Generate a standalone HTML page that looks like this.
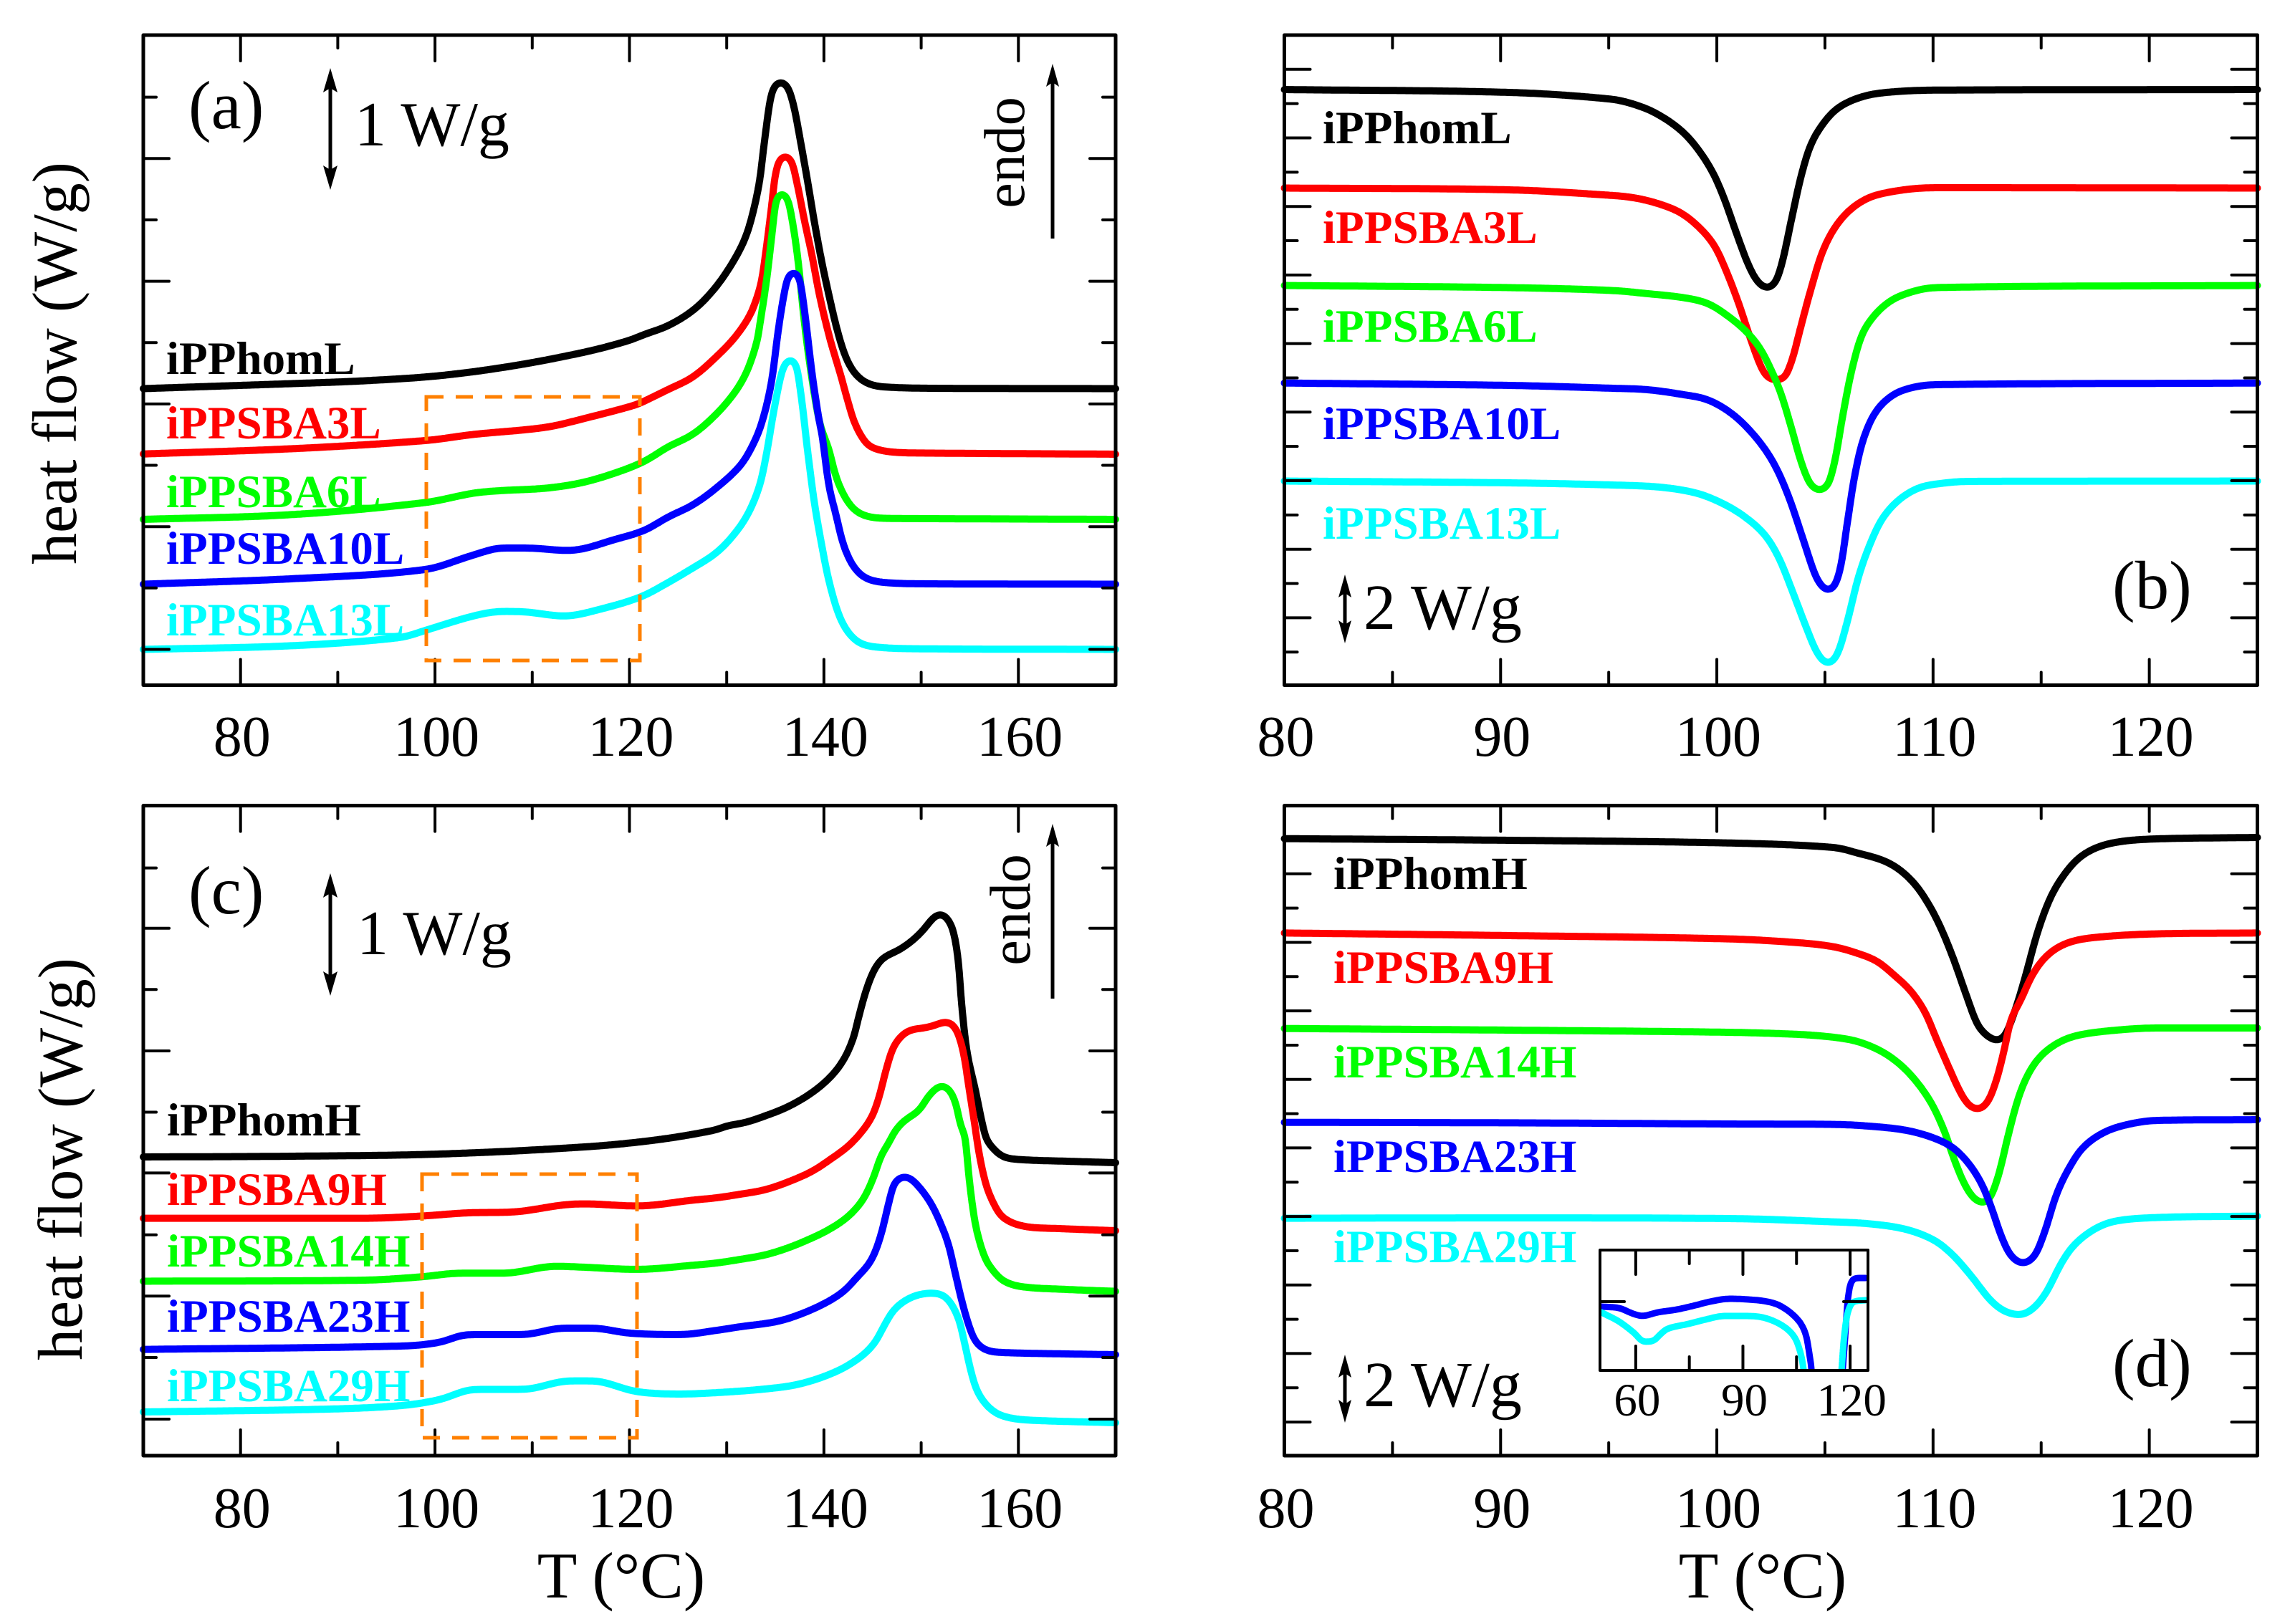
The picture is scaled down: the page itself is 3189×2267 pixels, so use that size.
<!DOCTYPE html>
<html lang="en">
<head>
<meta charset="utf-8">
<title>DSC heat flow curves</title>
<style>
html,body{margin:0;padding:0;background:#fff}
svg{display:block}
text{font-family:"Liberation Serif","Times New Roman",serif;fill:#000}
.lab{font-weight:bold;font-size:65px}
.tick{font-size:80px;text-anchor:middle}
.ins{font-size:65px;text-anchor:middle}
.big{font-size:88px}
.big2{font-size:90px}
.tag{font-size:95px}
.ttl{font-size:88px;text-anchor:middle}
.endo{font-size:80px;text-anchor:middle}
.xt{font-size:91px;text-anchor:middle}
</style>
</head>
<body>
<svg id="chart" xmlns="http://www.w3.org/2000/svg" width="3189" height="2267" viewBox="0 0 3189 2267">
<rect width="3189" height="2267" fill="#fff"/>
<defs><clipPath id="insetClip"><rect x="2233" y="1745" width="374" height="168"/></clipPath></defs>
<g id="curvesLayer"></g>
<g id="axesLayer"></g>

<g>
<text class="tag" x="263" y="179">(a)</text>
<text class="big" x="495" y="203">1 W/g</text>
<g><line x1="461" y1="110" x2="461" y2="250" stroke="#000" stroke-width="5"/><polygon points="461,95 451,129 461,123 471,129"/><polygon points="461,265 451,231 461,237 471,231"/></g>
<text class="endo" transform="translate(1429,213) rotate(-90)">endo</text>
<g><line x1="1469" y1="105" x2="1469" y2="333" stroke="#000" stroke-width="5"/><polygon points="1469,89 1460,121 1469,115 1478,121"/></g>
<text class="ttl" transform="translate(106,507) rotate(-90)">heat flow (W/g)</text>
<text class="lab" x="232" y="522" style="fill:#000">iPPhomL</text>
<text class="lab" x="232" y="612" style="fill:#f00">iPPSBA3L</text>
<text class="lab" x="232" y="708" style="fill:#0f0">iPPSBA6L</text>
<text class="lab" x="232" y="787" style="fill:#00f">iPPSBA10L</text>
<text class="lab" x="232" y="887" style="fill:#0ff">iPPSBA13L</text>
<rect x="595" y="554" width="298" height="368" fill="none" stroke="#ff8000" stroke-width="5" stroke-dasharray="24 17"/>
</g>

<g>
<text class="tag" x="2948" y="849">(b)</text>
<text class="big2" x="1903" y="878">2 W/g</text>
<g><line x1="1877" y1="815" x2="1877" y2="885" stroke="#000" stroke-width="5"/><polygon points="1877,802 1868,834 1877,828 1886,834"/><polygon points="1877,898 1868,866 1877,872 1886,866"/></g>
<text class="lab" x="1846" y="200" style="fill:#000">iPPhomL</text>
<text class="lab" x="1846" y="339" style="fill:#f00">iPPSBA3L</text>
<text class="lab" x="1846" y="477" style="fill:#0f0">iPPSBA6L</text>
<text class="lab" x="1846" y="613" style="fill:#00f">iPPSBA10L</text>
<text class="lab" x="1846" y="752" style="fill:#0ff">iPPSBA13L</text>
</g>

<g>
<text class="tag" x="263" y="1275">(c)</text>
<text class="big" x="498" y="1332">1 W/g</text>
<g><line x1="461" y1="1234" x2="461" y2="1375" stroke="#000" stroke-width="5"/><polygon points="461,1219 451,1253 461,1247 471,1253"/><polygon points="461,1390 451,1356 461,1362 471,1356"/></g>
<text class="endo" transform="translate(1437,1270) rotate(-90)">endo</text>
<g><line x1="1469" y1="1166" x2="1469" y2="1394" stroke="#000" stroke-width="5"/><polygon points="1469,1150 1460,1182 1469,1176 1478,1182"/></g>
<text class="ttl" transform="translate(114,1618) rotate(-90)">heat flow (W/g)</text>
<text class="lab" x="233" y="1585" style="fill:#000">iPPhomH</text>
<text class="lab" x="233" y="1682" style="fill:#f00">iPPSBA9H</text>
<text class="lab" x="233" y="1768" style="fill:#0f0">iPPSBA14H</text>
<text class="lab" x="233" y="1859" style="fill:#00f">iPPSBA23H</text>
<text class="lab" x="233" y="1956" style="fill:#0ff">iPPSBA29H</text>
<rect x="589" y="1639" width="300" height="368" fill="none" stroke="#ff8000" stroke-width="5" stroke-dasharray="24 17"/>
<text class="xt" x="867" y="2230">T (°C)</text>
</g>

<g>
<text class="tag" x="2948" y="1935">(d)</text>
<text class="big2" x="1903" y="1963">2 W/g</text>
<g><line x1="1877" y1="1904" x2="1877" y2="1973" stroke="#000" stroke-width="5"/><polygon points="1877,1891 1868,1923 1877,1917 1886,1923"/><polygon points="1877,1986 1868,1954 1877,1960 1886,1954"/></g>
<text class="lab" x="1861" y="1241" style="fill:#000">iPPhomH</text>
<text class="lab" x="1861" y="1372" style="fill:#f00">iPPSBA9H</text>
<text class="lab" x="1861" y="1504" style="fill:#0f0">iPPSBA14H</text>
<text class="lab" x="1861" y="1636" style="fill:#00f">iPPSBA23H</text>
<text class="lab" x="1861" y="1762" style="fill:#0ff">iPPSBA29H</text>
<text class="xt" x="2460" y="2230">T (°C)</text>
</g>
</svg>

<script>
// Heat-flow values are in arbitrary units: height above the bottom of each panel.
// ---------- Panel (a) ----------
const aT_iPPhomL = [70,85.3,92.8,100.4,107.9,115.4,119.9,121.6,124,126.7,128.9,130.7,131.9,132.63,133.37,133.86,134.47,134.97,135.63,136.32,136.93,137.54,138.28,139.02,139.75,140.49,141.23,141.97,142.7,143.68,144.91,146.6,151,170];
const aV_iPPhomL = [414,421,425,432,445.5,465,481,490,502,525,556,592,624,656,703,756.5,816.5,838,843,834,806.5,763,706.5,646.5,593,546,503,468,445,428,419,416,414.5,414];
const aT_iPPSBA3L = [70,85.1,99,103.9,111.4,115.4,120.7,121.6,124,126.5,128.9,130.9,132.39,133.12,133.61,134.11,134.6,134.97,135.46,136.07,136.68,137.3,138.03,138.77,139.51,140.49,141.23,141.72,142.46,143.19,144.42,145.65,147.4,151,170];
const aV_iPPSBA3L = [322.8,330,341.5,350,360,372.5,391.5,397,413,430,458,486.5,516.5,541.5,566.5,613.5,666.5,709.5,734.5,739.5,731.5,696.5,646.5,600,546.5,490,455,433,396.5,365,336.5,328.5,325,324,322.5];
const aT_iPPSBA6L = [70,85.1,99,103.9,106.6,111.4,115.2,118.9,121.6,124,126.5,128.9,130.9,132.14,133.12,133.37,134.11,134.6,135.09,135.7,136.32,136.93,137.42,137.91,138.53,139.51,140.5,141.2,142,143,144.2,146.1,151,170];
const aV_iPPSBA6L = [231.5,238,255,268,271.5,275,283,298,313,333,350,378,410,440,480,500,566.5,623,676.5,687.5,676.5,633,583,516.5,450,369.5,329.5,293,266.5,246.5,236.5,233,232.5,231.5];
const aT_iPPSBA10L = [70,85.1,99,103.9,106.9,109.4,113.7,118.9,121.6,124,126.5,128.9,131.4,132.6,133.6,134.6,135.3,135.9,136.4,136.97,137.5,138,138.8,139.5,139.8,140.5,141.2,142,143,144.2,146.1,151,170];
const aV_iPPSBA10L = [141,148.5,161.5,181.5,191.5,191.5,188,205,216.5,235,251.5,275,306.5,333,366,423,495,546,573,577.5,566.5,523,433,370,350,280,240,196.5,166.5,150,143.5,141.5,141];
const aT_iPPSBA13L = [70,85.1,96.4,99,103.9,106.9,109.1,113.3,117.1,121.2,124,126.5,128.9,130.7,132.2,133.4,134.1,134.8,135.6,136.1,136.5,137.1,137.7,138.3,139,139.8,140.5,141.5,142.5,143.7,145.2,148.6,170];
const aV_iPPSBA13L = [50,55,66.5,76.5,96.5,103,102.5,96.5,106.5,123.5,143.5,163.5,184.5,209.5,239.5,279.5,323.5,379.5,433.5,451.5,455.5,448.5,399.5,329.5,256.5,193.5,146.5,99.5,73.5,58.5,53.5,51,50];
const aTickMajor = [80,100,120,140,160];
const aTickMinor = [70,90,110,130,150,170];
const aTickLabels = ['80','100','120','140','160'];
const aYMajor = [50,221.3,392.6,563.9,735.2];
const aYMinor = [135.7,307,478.3,649.6,820.9];

// ---------- Panel (b) ----------
const bT_iPPhomL = [80,90.4,95.16,96.26,97.15,98.25,99.02,99.8,100.35,100.9,101.45,101.89,102.34,102.72,103.05,103.44,103.88,104.32,104.88,105.54,106.42,107.52,110.06,125];
const bV_iPPhomL = [831.5,827.5,818,810,799,777,752.5,716.5,678.5,631.5,587.5,563,553.7,563,593.5,648.5,708.5,752.5,782.5,804.5,818.5,826.5,830.7,831.5];
const bT_iPPSBA3L = [80,90.4,95.16,96.26,97.37,98.36,99.24,99.91,100.46,101.01,101.56,102.12,102.56,103,103.44,103.88,104.32,104.88,105.54,106.42,107.52,110.06,125];
const bV_iPPSBA3L = [694,691.5,683.7,680,671.5,659,637.5,612.5,576.5,533,483.5,439.5,426,426,450.5,500,549.5,604.5,642.5,670,685.5,694.5,694];
const bT_iPPSBA6L = [80,90.4,95.16,96.82,98.47,99.58,100.46,101.34,102,102.56,103,103.44,103.88,104.32,104.76,105.15,105.48,105.81,106.2,106.64,107.08,107.86,108.74,110.06,125];
const bV_iPPSBA6L = [558,555,551,546.5,541,533,516.5,494.5,470,437,404,360,313.5,280.5,271.5,280.5,316.5,374,434.5,483.5,508.5,533,546.5,555,558];
const bT_iPPSBA10L = [80,90.4,95.16,96.82,98.47,99.58,100.68,101.56,102.34,102.89,103.44,103.99,104.54,104.88,105.15,105.48,105.76,106.03,106.37,106.75,107.3,108.08,108.96,110.06,125];
const bV_iPPSBA10L = [421.8,418.5,414.5,412.5,405.5,398.5,379.5,354.5,324.5,294.5,253.5,203.7,154.5,136.8,131.5,140.5,170.8,225.7,291.5,341,379.5,404,415,419.5,421.8];
const bT_iPPSBA13L = [80,90.4,95.16,97.37,99.02,100.13,101.23,102.23,102.89,103.55,104.1,104.65,105.15,105.59,106.03,106.53,107.03,107.63,108.41,109.29,110.06,111.6,125];
const bV_iPPSBA13L = [285,282.5,279.5,276.5,268.5,255.8,236.5,209.5,176.5,126.9,83.5,44.5,29.5,44.5,88.5,148.9,192.8,231.5,258.5,275,280.5,284.5,285];
const bTickMajor = [80,90,100,110,120];
const bTickMinor = [85,95,105,115,125];
const bTickLabels = ['80','90','100','110','120'];
const bYMajor = [859.7,764,668.3,572.6,476.9,381.2,285.5,189.8,94.1];
const bYMinor = [811.85,716.15,620.45,524.75,429.05,333.35,237.65,141.95,46.25];

// ---------- Panel (c) ----------
const cT_iPPhomH = [70,85.3,100.4,115.4,122.9,129,129.9,131.9,133.9,136.3,138.8,140.7,142,143,143.7,144.4,145.2,146.1,147.6,149.1,150.3,151.3,152,152.7,153.3,153.8,154.2,154.7,155.6,156,156.2,156.7,157.4,158.4,160.6,165,170];
const cV_iPPhomH = [417,418,421,431,441,455,460,465,474,487,507,529,552,582,619,652,679,695,705,719,735,752,757,750,732,692,625,565,509,482,469,442,429,417,413,411,409];
const cT_iPPSBA9H = [70,92.8,98.5,103.4,107.9,113.2,115.4,120.7,126.7,129,131.4,133.9,136.3,138.8,140.7,142.5,144,145,145.7,146.4,147.1,147.9,148.8,150.3,151.5,152.4,153.1,153.8,154.4,154.9,155.4,156,156.7,157.6,158.4,160.6,164.2,170];
const cV_iPPSBA9H = [331.4,331.4,334.4,339,340,350,351.5,348.5,357,360,365,371,382,397,414,432,454,475,502,539,569,585,594,597,601,606,604,589,559,515,472,419,377,348,332,320,317,314];
const cT_iPPSBA14H = [70,92.8,98.5,102.6,107.1,112.4,115.4,120.7,126.7,129,131.4,133.9,136.3,138.8,140.7,142.5,144,145,145.9,146.6,147.4,148.4,149.8,150.6,151.3,152,152.7,153.5,154.1,154.5,155,155.5,156,156.7,157.6,158.4,160.2,165,170];
const cV_iPPSBA14H = [243.5,245,249.5,254.7,254.7,264.4,263,260,266,269,274,280,290,304,317,334,357,385,419,435,455,469,482,499,510,517,514,494,459,445,379,329,299,272,255,244,236,232,229.4];
const cT_iPPSBA23H = [70,96.6,100.4,103.4,109,113.2,116.2,120,125.2,129,131.4,135.1,137.5,140,142,143.4,144.7,145.4,146,146.6,147.2,147.9,148.5,149.1,150.1,151.1,152,152.8,153.5,154.2,154.9,155.6,156.7,158.4,165,170];
const cV_iPPSBA23H = [148.3,153,158,169,169,178,178,171,169,175,180,187,197,212,229,249,269,289,315,349,379,389,390,385,370,350,324,295,255,215,182,159,147,144,142,141];
const cT_iPPSBA29H = [70,89.1,96.6,100.4,104.1,109,113.9,116.2,120.7,125.2,129,133.9,137.5,141.2,143.7,145.2,146.1,147.1,148.4,149.8,151.3,152.3,153.1,153.9,154.5,155.1,155.7,156.5,157.4,158.4,160.6,170];
const cV_iPPSBA29H = [61,65,70,78,92.5,92.5,104.4,104.4,89.5,86,88,93,100,117,137,157,179,202,217,225,227,224,212,189,155,119,92,74,62,55,50,46];
const cTickMajor = [80,100,120,140,160];
const cTickMinor = [70,90,110,130,150,170];
const cTickLabels = ['80','100','120','140','160'];
const cYMajor = [51,222.7,394.6,565,736.3];
const cYMinor = [137,308.3,479.5,650.7,820.4];

// ---------- Panel (d) ----------
const dT_iPPhomH = [80,90.4,100.5,105.43,106.53,107.64,108.41,109.18,109.85,110.4,110.95,111.5,112.05,112.5,112.94,113.32,113.82,114.26,114.81,115.37,115.92,116.69,117.57,118.68,120.33,125];
const dV_iPPhomH = [861.3,859,855.3,849,841,831.5,819,797,767,734,693,646,602,586,579,586,624,668,728.4,775,805,833,849,857.3,861,863];
const dT_iPPSBA9H = [80,90.4,100.5,103.8,105.43,106.53,107.42,108.19,108.96,109.63,110.18,110.73,111.28,111.72,112.11,112.55,112.94,113.27,113.6,114.04,114.59,115.26,116.14,117.35,120.33,125];
const dV_iPPSBA9H = [729.6,726,721.4,716,710.3,701,690,671,649,619,580,542,506,487,483,495,525.4,564,608,635,671,698,715,723,728.4,729.6];
const dT_iPPSBA14H = [80,90.4,100.5,103.8,105.43,106.53,107.64,108.52,109.29,109.96,110.51,110.95,111.39,111.83,112.33,112.66,113.05,113.49,113.93,114.37,114.92,115.7,116.58,118.13,120.33,125];
const dV_iPPSBA14H = [596.3,594,591,588,584,578,564,545,520,490,454,416,383,361,352,361,394,449,498,531,556,575,586,593,597,597];
const dT_iPPSBA23H = [80,90.4,100.5,105.43,107.64,108.96,110.07,110.95,111.72,112.28,112.72,113.16,113.6,114.15,114.7,115.15,115.7,116.25,116.91,117.91,119.01,120.33,125];
const dV_iPPSBA23H = [465.3,464.6,463,462.4,458.5,453,443,429.4,405,377.3,344.4,306,279,268,279,311.5,364,399.3,429.5,451.4,462.4,468,469];
const dT_iPPSBA29H = [80,90.4,100.5,105.43,107.09,108.74,110.07,110.95,111.83,112.61,113.27,114.04,114.7,115.26,115.92,116.47,117.35,118.35,120.33,125];
const dV_iPPSBA29H = [331.4,331.9,331,326.3,323.6,316,300.5,279,248.4,218.3,202,196.3,207.3,229.2,268,292.3,314.3,327,332.4,334.4];
const dTickMajor = [80,90,100,110,120];
const dTickMinor = [85,95,105,115,125];
const dTickLabels = ['80','90','100','110','120'];
const dYMajor = [812.2,716.5,620.9,525.2,429.6,333.9,238.2,142.6,46.9];
const dYMinor = [764.4,668.7,573,477.4,381.7,286.1,190.4,94.8];

// ---------- Inset of panel (d) ----------
const iT_iPPSBA23H = [50.4,55.4,58.8,61.8,66.1,71.5,76.8,80.8,86.2,91.5,96.9,100.9,105.5,107.6,108.6,109.2,109.9,117.2,117.9,118.6,119.3,120.3,121.9,124.3];
const iV_iPPSBA23H = [89,87,80,76,81,85,91,96,100,99,96,89,70,50,23,0,-54,-54,0,46,96,123,129,129];
const iT_iPPSBA29H = [50.4,55.4,59.4,62.4,64.8,66.8,68.8,74.8,79.5,84.8,90.2,95.5,100.9,104.5,106.2,107,108.2,116.9,117.6,118.3,119.3,121,124.3];
const iV_iPPSBA29H = [81,68,53,40,41,50,58,65,71,76,76,74,63,46,23,0,-54,-54,0,46,80,96,98];
const iTickMajor = [60,90,120];
const iTickMinor = [75,105];
const iTickLabels = ['60','90','120'];
const iYMajor = [96];

const NS = 'http://www.w3.org/2000/svg';
const curvesLayer = document.getElementById('curvesLayer');
const axesLayer = document.getElementById('axesLayer');

function make(tag, attrs, parent) {
  const node = document.createElementNS(NS, tag);
  for (const k in attrs) node.setAttribute(k, attrs[k]);
  parent.appendChild(node);
  return node;
}
function xAxis(f) { return T => f.x0 + (T - f.tMin) / (f.tMax - f.tMin) * (f.x1 - f.x0); }
function yAxis(f) { return v => f.y1 - v; }

// Monotone cubic through the read points, sampled and lightly smoothed along its length.
function curveD(ts, vs, f) {
  const X = xAxis(f), Y = yAxis(f);
  const px = ts.map(X), py = vs.map(Y), n = px.length;
  const d = [];
  for (let i = 0; i < n - 1; i++) d.push((py[i + 1] - py[i]) / (px[i + 1] - px[i]));
  const m = [d[0]];
  for (let i = 1; i < n - 1; i++) {
    if (d[i - 1] * d[i] <= 0) { m.push(0); continue; }
    const c = (py[i + 1] - py[i - 1]) / (px[i + 1] - px[i - 1]);
    const lim = 3 * Math.min(Math.abs(d[i - 1]), Math.abs(d[i]));
    m.push(Math.sign(c) * Math.min(Math.abs(c), lim));
  }
  m.push(d[n - 2]);
  const dense = [];
  for (let i = 0; i < n - 1; i++) {
    const h = px[i + 1] - px[i];
    const steps = Math.max(2, Math.ceil(Math.hypot(h, py[i + 1] - py[i]) / 1.5));
    for (let j = 0; j < steps; j++) {
      const u = j / steps, u2 = u * u, u3 = u2 * u;
      dense.push([px[i] + u * h,
        (2 * u3 - 3 * u2 + 1) * py[i] + (u3 - 2 * u2 + u) * h * m[i] + (-2 * u3 + 3 * u2) * py[i + 1] + (u3 - u2) * h * m[i + 1]]);
    }
  }
  dense.push([px[n - 1], py[n - 1]]);
  // resample by arc length
  const ds = 2, pts = [dense[0]];
  let carry = 0;
  for (let i = 1; i < dense.length; i++) {
    let a = dense[i - 1];
    const b = dense[i];
    let seg = Math.hypot(b[0] - a[0], b[1] - a[1]);
    while (carry + seg >= ds) {
      const r = (ds - carry) / seg;
      const q = [a[0] + (b[0] - a[0]) * r, a[1] + (b[1] - a[1]) * r];
      pts.push(q);
      a = q;
      seg = Math.hypot(b[0] - a[0], b[1] - a[1]);
      carry = 0;
    }
    carry += seg;
  }
  pts.push(dense[dense.length - 1]);
  // Gaussian along the arc; the window stays symmetric so end points are pinned
  const sigma = f.smooth / ds, out = [];
  for (let i = 0; i < pts.length; i++) {
    const R = Math.min(Math.ceil(3 * sigma), i, pts.length - 1 - i);
    let sx = 0, sy = 0, sw = 0;
    for (let k = -R; k <= R; k++) {
      const w = Math.exp(-k * k / (2 * sigma * sigma));
      sx += pts[i + k][0] * w;
      sy += pts[i + k][1] * w;
      sw += w;
    }
    out.push(sx / sw, sy / sw);
  }
  let s = 'M' + out[0].toFixed(1) + ' ' + out[1].toFixed(1);
  for (let i = 2; i < out.length; i += 2) s += 'L' + out[i].toFixed(1) + ' ' + out[i + 1].toFixed(1);
  return s;
}

function drawPanel(id, f, series, major, minor, labels, yMajor, yMinor) {
  const X = xAxis(f), Y = yAxis(f);
  series.forEach(function (sr) {
    const line = make('path', { d: curveD(sr.t, sr.v, f), fill: 'none', stroke: sr.color, 'stroke-width': f.sw, 'stroke-linecap': 'round', 'stroke-linejoin': 'round' }, curvesLayer);
    
    
    if (f.clip) line.setAttribute('clip-path', 'url(#' + f.clip + ')');
  });
  const box = make('rect', { x: f.x0, y: f.y0, width: f.x1 - f.x0, height: f.y1 - f.y0, fill: 'none', stroke: '#000', 'stroke-width': f.frame, 'stroke-linejoin': 'round' }, axesLayer);
  
  
  function tick(x1, y1, x2, y2, nm) {
    const t = make('line', { x1: x1, y1: y1, x2: x2, y2: y2, stroke: '#000', 'stroke-width': f.tw, 'stroke-linecap': 'round' }, axesLayer);
    
    
  }
  major.forEach(function (T) {
    tick(X(T), f.y1, X(T), f.y1 - f.lenMajor, 'x-tick-major-' + id);
    tick(X(T), f.y0, X(T), f.y0 + f.lenMajor, 'x-tick-major-top-' + id);
  });
  minor.forEach(function (T) {
    if (T <= f.tMin || T >= f.tMax) return;
    tick(X(T), f.y1, X(T), f.y1 - f.lenMinor, 'x-tick-minor-' + id);
    tick(X(T), f.y0, X(T), f.y0 + f.lenMinor, 'x-tick-minor-top-' + id);
  });
  yMajor.forEach(function (v) {
    tick(f.x0, Y(v), f.x0 + f.lenMajor, Y(v), 'y-tick-major-' + id);
    tick(f.x1, Y(v), f.x1 - f.lenMajor, Y(v), 'y-tick-major-right-' + id);
  });
  yMinor.forEach(function (v) {
    tick(f.x0, Y(v), f.x0 + f.lenMinor, Y(v), 'y-tick-minor-' + id);
    tick(f.x1, Y(v), f.x1 - f.lenMinor, Y(v), 'y-tick-minor-right-' + id);
  });
  major.forEach(function (T, i) {
    const lab = make('text', { x: X(T) + 2, y: f.labelY, class: f.labelClass }, axesLayer);
    lab.textContent = labels[i];
    
    
  });
}

const K = '#000000', R = '#ff0000', G = '#00ff00', B = '#0000ff', C = '#00ffff';
const mainStyle = { sw: 10, frame: 5, tw: 4, lenMajor: 36, lenMinor: 18, labelClass: 'tick', smooth: 7 };

drawPanel('a', Object.assign({ x0: 200, x1: 1557, y0: 49, y1: 956.5, tMin: 70, tMax: 170, labelY: 1055 }, mainStyle), [
  { name: 'iPPhomL', color: K, t: aT_iPPhomL, v: aV_iPPhomL },
  { name: 'iPPSBA3L', color: R, t: aT_iPPSBA3L, v: aV_iPPSBA3L },
  { name: 'iPPSBA6L', color: G, t: aT_iPPSBA6L, v: aV_iPPSBA6L },
  { name: 'iPPSBA10L', color: B, t: aT_iPPSBA10L, v: aV_iPPSBA10L },
  { name: 'iPPSBA13L', color: C, t: aT_iPPSBA13L, v: aV_iPPSBA13L }
], aTickMajor, aTickMinor, aTickLabels, aYMajor, aYMinor);

drawPanel('b', Object.assign({ x0: 1792.5, x1: 3150.5, y0: 49, y1: 956.5, tMin: 80, tMax: 125, labelY: 1055 }, mainStyle), [
  { name: 'iPPhomL', color: K, t: bT_iPPhomL, v: bV_iPPhomL },
  { name: 'iPPSBA3L', color: R, t: bT_iPPSBA3L, v: bV_iPPSBA3L },
  { name: 'iPPSBA6L', color: G, t: bT_iPPSBA6L, v: bV_iPPSBA6L },
  { name: 'iPPSBA10L', color: B, t: bT_iPPSBA10L, v: bV_iPPSBA10L },
  { name: 'iPPSBA13L', color: C, t: bT_iPPSBA13L, v: bV_iPPSBA13L }
], bTickMajor, bTickMinor, bTickLabels, bYMajor, bYMinor);

drawPanel('c', Object.assign({ x0: 200, x1: 1557, y0: 1124.6, y1: 2032, tMin: 70, tMax: 170, labelY: 2132 }, mainStyle), [
  { name: 'iPPhomH', color: K, t: cT_iPPhomH, v: cV_iPPhomH },
  { name: 'iPPSBA9H', color: R, t: cT_iPPSBA9H, v: cV_iPPSBA9H },
  { name: 'iPPSBA14H', color: G, t: cT_iPPSBA14H, v: cV_iPPSBA14H },
  { name: 'iPPSBA23H', color: B, t: cT_iPPSBA23H, v: cV_iPPSBA23H },
  { name: 'iPPSBA29H', color: C, t: cT_iPPSBA29H, v: cV_iPPSBA29H }
], cTickMajor, cTickMinor, cTickLabels, cYMajor, cYMinor);

drawPanel('d', Object.assign({ x0: 1792.5, x1: 3150.5, y0: 1124.6, y1: 2032, tMin: 80, tMax: 125, labelY: 2132 }, mainStyle), [
  { name: 'iPPhomH', color: K, t: dT_iPPhomH, v: dV_iPPhomH },
  { name: 'iPPSBA9H', color: R, t: dT_iPPSBA9H, v: dV_iPPSBA9H },
  { name: 'iPPSBA14H', color: G, t: dT_iPPSBA14H, v: dV_iPPSBA14H },
  { name: 'iPPSBA23H', color: B, t: dT_iPPSBA23H, v: dV_iPPSBA23H },
  { name: 'iPPSBA29H', color: C, t: dT_iPPSBA29H, v: dV_iPPSBA29H }
], dTickMajor, dTickMinor, dTickLabels, dYMajor, dYMinor);

drawPanel('inset', { x0: 2233, x1: 2607, y0: 1745, y1: 1913, tMin: 50, tMax: 125, labelY: 1976, sw: 9, frame: 4, tw: 4, lenMajor: 34, lenMinor: 19, labelClass: 'ins', clip: 'insetClip', smooth: 3 }, [
  { name: 'iPPSBA23H', color: B, t: iT_iPPSBA23H, v: iV_iPPSBA23H },
  { name: 'iPPSBA29H', color: C, t: iT_iPPSBA29H, v: iV_iPPSBA29H }
], iTickMajor, iTickMinor, iTickLabels, iYMajor, []);
</script>
</body>
</html>
